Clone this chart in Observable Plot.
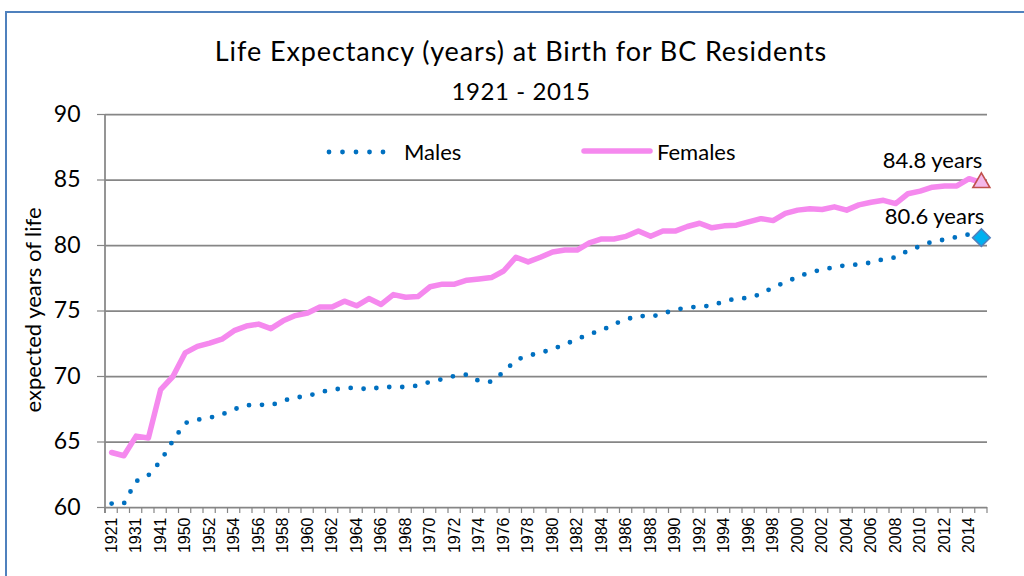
<!DOCTYPE html>
<html>
<head>
<meta charset="utf-8">
<script src="https://cdn.jsdelivr.net/npm/d3@7"></script>
<script src="https://cdn.jsdelivr.net/npm/@observablehq/plot@0.6"></script>
<style>
  html, body { margin: 0; padding: 0; background: #fff; }
  body { width: 1024px; height: 576px; position: relative; overflow: hidden; font-family: Lato, "Open Sans", sans-serif; color: #000; }
  #frame { position: absolute; left: 5px; top: 11px; width: 1200px; height: 800px; border-left: 2px solid #4F81BD; border-top: 2px solid #4F81BD; box-sizing: border-box; }
  .title { position: absolute; left: 0; width: 1042px; text-align: center; white-space: nowrap; line-height: 1; }
  #t1 { top: 37px; font-size: 27px; letter-spacing: 0.9px; }
  #t2 { top: 79px; font-size: 24px; letter-spacing: 0.6px; }
  #ytitle { position: absolute; left: 33px; top: 310px; transform: translate(-50%, -50%) rotate(-90deg); font-size: 22px; white-space: nowrap; line-height: 1; }
  #chart { position: absolute; left: 0; top: 100px; }
  .legtext { position: absolute; font-size: 22px; line-height: 1; top: 141px; white-space: nowrap; }
  #legsvg { position: absolute; left: 0; top: 0; }
</style>
</head>
<body>
<div id="frame"></div>
<div class="title" id="t1">Life Expectancy (years) at Birth for BC Residents</div>
<div class="title" id="t2">1921 - 2015</div>
<div id="ytitle">expected years of life</div>
<div id="chart"></div>
<svg id="legsvg" width="1024" height="200"></svg>
<div class="legtext" id="lm" style="left:404px"></div>
<div class="legtext" id="lf" style="left:657px"></div>
<script>
const years = ["1921","1926","1931","1936","1941","1946","1950","1951","1952","1953","1954","1955","1956","1957","1958","1959","1960","1961","1962","1963","1964","1965","1966","1967","1968","1969","1970","1971","1972","1973","1974","1975","1976","1977","1978","1979","1980","1981","1982","1983","1984","1985","1986","1987","1988","1989","1990","1991","1992","1993","1994","1995","1996","1997","1998","1999","2000","2001","2002","2003","2004","2005","2006","2007","2008","2009","2010","2011","2012","2013","2014","2015"];

const maleLE = [60.3,60.3,62.0,62.45,63.55,65.1,66.45,66.7,66.85,67.1,67.5,67.8,67.85,67.8,68.15,68.4,68.5,68.8,69.0,69.1,69.15,69.0,69.2,69.2,69.2,69.3,69.6,69.8,70.05,70.15,69.65,69.6,70.35,71.25,71.6,71.8,72.1,72.45,72.85,73.25,73.5,74.0,74.35,74.65,74.55,74.8,75.1,75.25,75.35,75.4,75.75,75.95,76.0,76.3,76.8,77.2,77.6,77.95,78.15,78.35,78.5,78.55,78.7,78.95,79.1,79.6,79.95,80.3,80.45,80.65,80.85,80.6];

const femaleLE = [64.2,63.95,65.45,65.3,69.0,70.0,71.8,72.3,72.55,72.85,73.5,73.85,74.0,73.65,74.25,74.65,74.85,75.3,75.3,75.75,75.4,75.95,75.5,76.25,76.05,76.1,76.85,77.05,77.05,77.35,77.45,77.55,78.05,79.1,78.75,79.1,79.5,79.65,79.65,80.2,80.5,80.5,80.7,81.1,80.7,81.1,81.1,81.45,81.7,81.35,81.5,81.55,81.8,82.05,81.9,82.45,82.7,82.8,82.75,82.95,82.7,83.1,83.3,83.45,83.2,83.95,84.15,84.45,84.55,84.55,85.1,84.8];

const yTicks = [60, 65, 70, 75, 80, 85, 90];
const xLabels = years.filter((d, i) => i % 2 === 0);
const seriesNames = ["Males", "Females"];

const maleData = years.map((year, i) => ({year, value: maleLE[i]}));
const femaleData = years.map((year, i) => ({year, value: femaleLE[i]}));

const GRID = "#868686";
const MALE = "#0070C0";
const FEMALE = "#F589EE";

function categoryTicks(index, scales, values, dimensions) {
  const g = d3.create("svg:g");
  const x = scales.x, y = scales.y;
  const p0 = x(years[0]), p1 = x(years[1]);
  const step = p1 - p0;
  const isCenter = Math.abs(p0 - dimensions.marginLeft) > 1;
  const edges = years.map(d => x(d) - (isCenter ? step / 2 : 0));
  edges.push(edges[edges.length - 1] + step);
  const yb = y(60), yt = y(90);
  g.append("line").attr("x1", edges[0]).attr("x2", edges[0]).attr("y1", yt).attr("y2", yb + 6)
    .attr("stroke", GRID).attr("stroke-width", 1.75);
  for (const e of edges) {
    g.append("line").attr("x1", e).attr("x2", e).attr("y1", yb).attr("y2", yb + 6)
      .attr("stroke", GRID).attr("stroke-width", 1.2);
  }
  return g.node();
}

const chart = Plot.plot({
  width: 1024,
  height: 476,
  marginLeft: 105,
  marginRight: 37,
  marginTop: 14,
  marginBottom: 69,
  style: {fontFamily: "Lato, sans-serif", background: "transparent", color: "#000", overflow: "visible"},
  x: {type: "band", domain: years, padding: 0, align: 0.5, round: false},
  y: {domain: [60, 90]},
  marks: [
    Plot.ruleY(yTicks, {stroke: GRID, strokeWidth: 1.75}),
    Plot.axisY({ticks: yTicks, tickSize: 8, tickPadding: 17, fontSize: 23, label: null, stroke: GRID, strokeWidth: 1.2}),
    Plot.axisX({ticks: xLabels, tickSize: 0, tickPadding: 10, tickRotate: -90, fontSize: 16, fontFamily: "Liberation Sans, Arial, sans-serif", label: null}),
    categoryTicks,
    Plot.lineY(femaleData, {x: "year", y: "value", stroke: FEMALE, strokeWidth: 5.5, strokeLinejoin: "round", strokeLinecap: "round"}),
    Plot.lineY(maleData, {x: "year", y: "value", stroke: MALE, strokeWidth: 4.8, strokeDasharray: "0 13", strokeLinecap: "round", strokeLinejoin: "round"}),
    Plot.dot([femaleData[femaleData.length - 1]], {x: "year", y: "value", symbol: "triangle", r: 6.3, fill: "#F4B8EA", stroke: "#C0504D", strokeWidth: 1.6}),
    Plot.dot([maleData[maleData.length - 1]], {x: "year", y: "value", symbol: "square", rotate: 45, r: 7, fill: "#00B0F0", stroke: "#4F81BD", strokeWidth: 1.6}),
    Plot.text([femaleData[femaleData.length - 1]], {x: "year", y: "value", text: d => `${d.value} years`, textAnchor: "end", dx: 1, dy: -22, fontSize: 22, fill: "#000"}),
    Plot.text([maleData[maleData.length - 1]], {x: "year", y: "value", text: d => `${d.value} years`, textAnchor: "end", dx: 3, dy: -21, fontSize: 22, fill: "#000"})
  ]
});
document.getElementById("chart").appendChild(chart);

const leg = d3.select("#legsvg");
leg.append("line").attr("x1", 329).attr("x2", 384).attr("y1", 152).attr("y2", 152)
  .attr("stroke", MALE).attr("stroke-width", 4.8).attr("stroke-dasharray", "0 13.5").attr("stroke-linecap", "round");
leg.append("line").attr("x1", 584).attr("x2", 650).attr("y1", 151).attr("y2", 151)
  .attr("stroke", FEMALE).attr("stroke-width", 5.5).attr("stroke-linecap", "round");
document.getElementById("lm").textContent = seriesNames[0];
document.getElementById("lf").textContent = seriesNames[1];
</script>
</body>
</html>
